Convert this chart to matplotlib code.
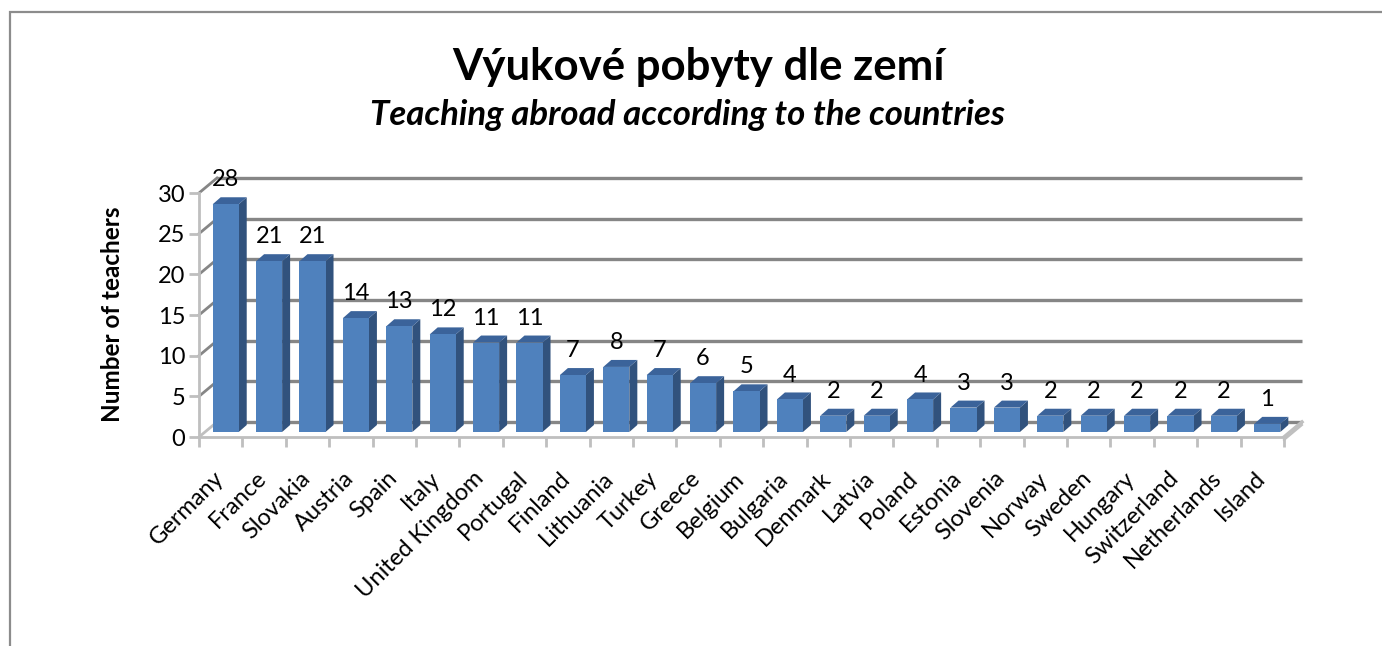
import matplotlib
matplotlib.use("Agg")
import matplotlib.pyplot as plt
import matplotlib.transforms as mtransforms
from matplotlib.patches import Polygon, Rectangle

plt.rcParams['font.family'] = ['Lato', 'DejaVu Sans']

# data
countries = ['Germany', 'France', 'Slovakia', 'Austria', 'Spain', 'Italy',
             'United Kingdom', 'Portugal', 'Finland', 'Lithuania', 'Turkey',
             'Greece', 'Belgium', 'Bulgaria', 'Denmark', 'Latvia', 'Poland',
             'Estonia', 'Slovenia', 'Norway', 'Sweden', 'Hungary',
             'Switzerland', 'Netherlands', 'Island']
teachers = [28, 21, 21, 14, 13, 12, 11, 11, 7, 8, 7, 6, 5, 4, 2, 2, 4, 3, 3,
            2, 2, 2, 2, 2, 1]
y_ticks = [0, 5, 10, 15, 20, 25, 30]

title = 'Výukové pobyty dle zemí'
subtitle = 'Teaching abroad according to the countries'
y_label = 'Number of teachers'

W, H = 1382, 646
fig = plt.figure(figsize=(W / 100, H / 100), dpi=100)

# outer chart frame (runs off the right/bottom edge like the screenshot)
fig.patches.append(Rectangle((10 / W, -0.1), 1.2, (H - 12) / H + 0.1,
                             transform=fig.transFigure, fill=False,
                             edgecolor='#8c8c8c', linewidth=1.6))

# front plane of the 3d plot
x0, x1 = 199, 1284
y0, y1 = 437, 193
ax = fig.add_axes([x0 / W, (H - y0) / H, (x1 - x0) / W, (y0 - y1) / H])
n = len(countries)
ax.set_xlim(-0.5, n - 0.5)
ax.set_ylim(0, 30)
ax.patch.set_visible(False)

# depth of the "3d" box in pixels
DX, DY = 18, 15


def shifted(dx, dy):
    return ax.transData + mtransforms.ScaledTranslation(dx / 100, dy / 100, fig.dpi_scale_trans)


grid_c = '#868686'
light_c = '#bfbfbf'
back = shifted(DX, DY)
for v in y_ticks:
    ax.plot([-0.5, n - 0.5], [v, v], color=grid_c, lw=2.4, transform=back,
            clip_on=False, zorder=1, solid_capstyle='butt')
# side wall diagonals
for v in y_ticks:
    p0 = ax.transData.transform((-0.5, v))
    ax.plot([p0[0], p0[0] + DX], [p0[1], p0[1] + DY],
            color=light_c if v == 0 else grid_c, lw=2,
            transform=None, clip_on=False, zorder=1)
# floor right edge
p0 = ax.transData.transform((n - 0.5, 0))
ax.plot([p0[0], p0[0] + DX], [p0[1], p0[1] + DY], color=light_c, lw=2.5,
        transform=None, clip_on=False, zorder=1)
ax.plot([p0[0], p0[0] + DX], [p0[1] - 3, p0[1] + DY - 3], color=light_c, lw=1.5,
        transform=None, clip_on=False, zorder=1)

# bars
front_c = '#4f81bd'
side_c = '#31527d'
top_c = '#3b639a'
BX, BY = 5, 5     # bar front offset in px
BDX, BDY = 8, 7   # bar depth in px
bw = 0.6
ppx = (x1 - x0) / n
ppy = (y0 - y1) / 30.0
bdx = BDX / ppx
bdy = BDY / ppy
tb = shifted(BX, BY)
for i, v in enumerate(teachers):
    l, r = i - bw / 2, i + bw / 2
    ax.add_patch(Polygon([(r, 0), (r + bdx, bdy), (r + bdx, v + bdy), (r, v)],
                         closed=True, facecolor=side_c, edgecolor='none',
                         transform=tb, clip_on=False, zorder=3))
    ax.add_patch(Polygon([(l, v), (r, v), (r + bdx, v + bdy), (l + bdx, v + bdy)],
                         closed=True, facecolor=top_c, edgecolor='none',
                         transform=tb, clip_on=False, zorder=3))
    ax.add_patch(Rectangle((l, 0), bw, v, facecolor=front_c, edgecolor='none',
                           transform=tb, clip_on=False, zorder=4))
    ax.annotate(str(v), xy=(i, v + bdy), xycoords=tb, xytext=(0, 5),
                textcoords='offset points', ha='center', va='bottom',
                fontsize=17, zorder=6, annotation_clip=False)

# axes
for s in ['top', 'right']:
    ax.spines[s].set_visible(False)
for s in ['left', 'bottom']:
    ax.spines[s].set_color(light_c)
    ax.spines[s].set_linewidth(2)
    ax.spines[s].set_zorder(2)
ax.set_yticks(y_ticks)
ax.set_yticklabels([str(v) for v in y_ticks], fontsize=17)
ax.tick_params(axis='y', length=7, width=2, color=light_c, pad=3)
ax.set_xticks(range(n))
ax.set_xticklabels(countries, rotation=45, ha='right', va='top',
                   rotation_mode='anchor', fontsize=17)
ax.tick_params(axis='x', length=0, pad=22)
lab_shift = mtransforms.ScaledTranslation(-8 / 100, 0, fig.dpi_scale_trans)
for lab in ax.get_xticklabels():
    lab.set_transform(lab.get_transform() + lab_shift)
ax.set_xticks([i - 0.5 for i in range(n + 1)], minor=True)
ax.tick_params(axis='x', which='minor', length=7, width=2, color=light_c)

fig.text(113 / W, 1 - 314 / H, y_label, rotation=90, ha='center', va='center',
         fontsize=17.5, fontweight='bold')
fig.text(698 / W, 1 - 67 / H, title, ha='center', va='center',
         fontsize=31.5, fontweight='bold')
fig.text(688 / W, 1 - 115 / H, subtitle, ha='center', va='center',
         fontsize=25, fontweight='bold', fontstyle='italic')

fig.savefig('out.png', dpi=100)
